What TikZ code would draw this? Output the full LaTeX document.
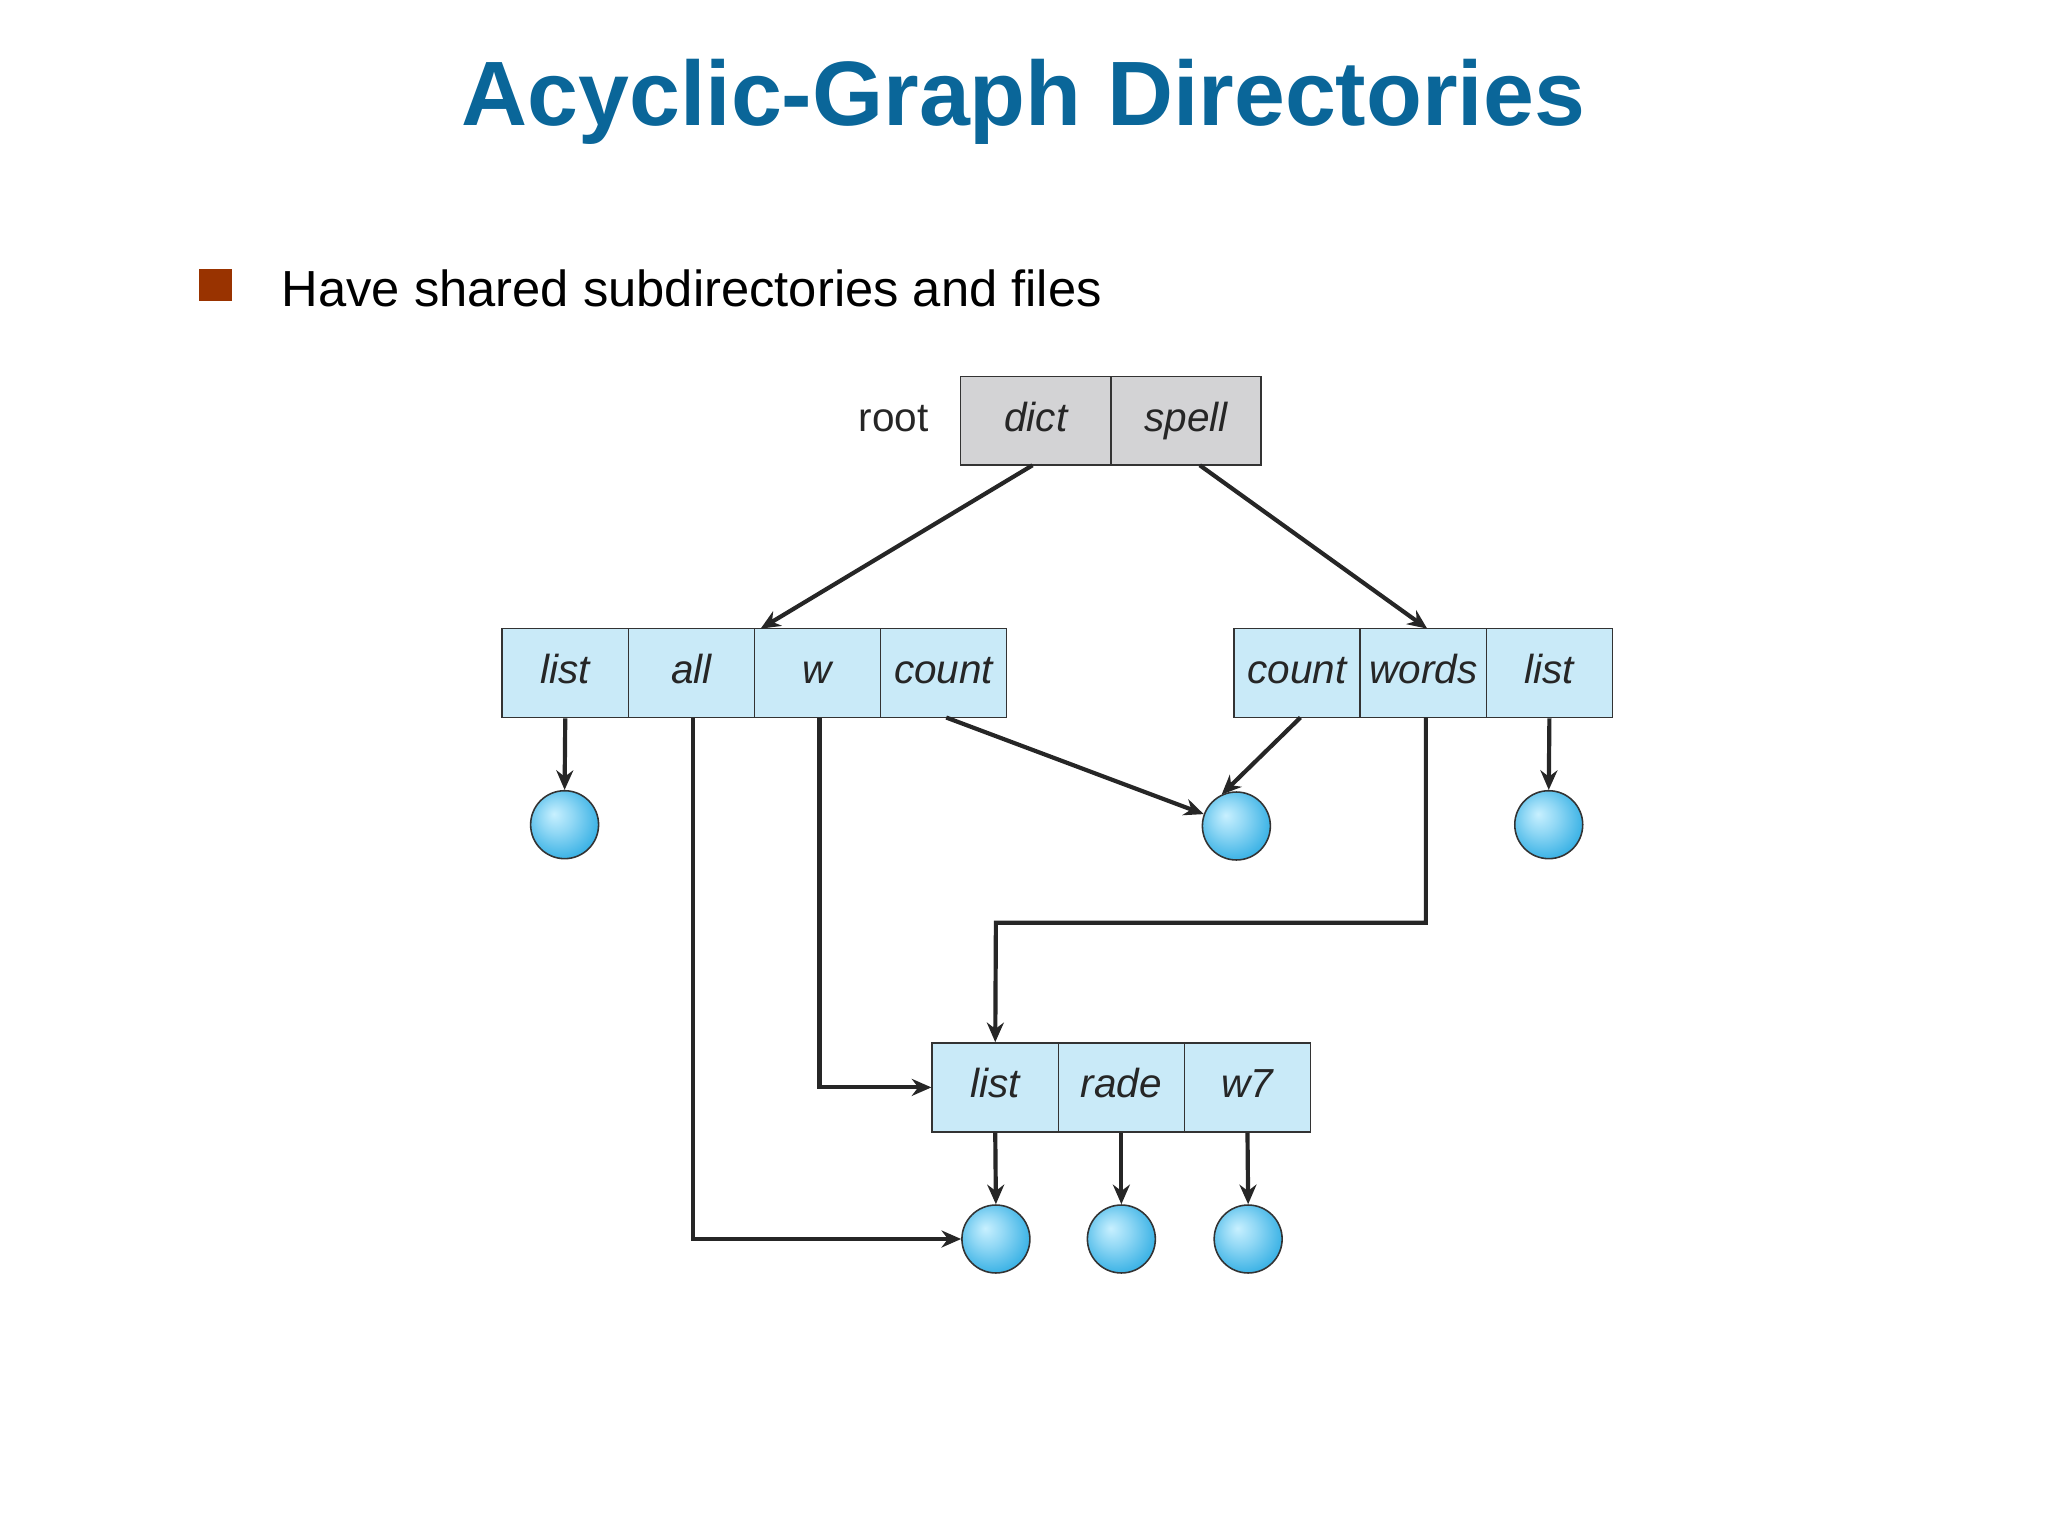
\documentclass[tikz,border=0pt]{standalone}
\usepackage{fontspec}
\setmainfont{Liberation Sans}
\usetikzlibrary{arrows.meta}
\definecolor{ttl}{HTML}{0A6699}
\definecolor{bul}{HTML}{993300}
\definecolor{cellb}{HTML}{C9EAF8}
\definecolor{cellg}{HTML}{D3D3D5}
\definecolor{ballin}{HTML}{C8F0FF}
\definecolor{ballout}{HTML}{3FB4E6}
\pgfdeclareradialshading{fball}{\pgfpoint{-8bp}{8bp}}{color(0bp)=(ballin); color(12bp)=(ballin!60!ballout); color(28bp)=(ballout); color(50bp)=(ballout)}
\begin{document}
\begin{tikzpicture}[x=1pt,y=-1pt,
  cell/.style={draw=black!80,line width=1.2pt,minimum width=96.5pt,minimum height=68pt,inner sep=0pt,font=\fontsize{31}{31}\selectfont\itshape,text=black!85,text height=22pt,text depth=6pt},
  bc/.style={cell,fill=cellb},
  gc/.style={cell,fill=cellg,minimum width=115pt},
  file/.style={circle,draw=black!80,line width=1.2pt,minimum size=52pt,inner sep=0pt,shading=fball},
  ar/.style={draw=black!85,line width=3.2pt,-{Stealth[length=15pt,width=13pt]}}]
\useasboundingbox (0,0) rectangle (1567,1175);
\node[font=\fontsize{70}{70}\selectfont\bfseries,text=ttl] (title) at (783,78) {Acyclic-Graph Directories};
\node[fill=bul,minimum size=25pt,inner sep=0pt] (bsq) at (165,218) {};
\node[anchor=west,font=\fontsize{38.8}{38.8}\selectfont] (btxt) at (212,221) {Have shared subdirectories and files};
% root
\node[gc] (dict) at (792.5,322) {dict};
\node[gc] (spell) at (907.5,322) {spell};
\node[anchor=east,font=\fontsize{31}{31}\selectfont,text=black!85,text height=22pt,text depth=6pt] (root) at (714,322) {root};
% left dir
\node[bc] (l1) at (432.5,515) {list};
\node[bc] (l2) at (529,515) {all};
\node[bc] (l3) at (625.5,515) {w};
\node[bc] (l4) at (722,515) {count};
% right dir
\node[bc] (r1) at (992.5,515) {count};
\node[bc] (r2) at (1089,515) {words};
\node[bc] (r3) at (1185.5,515) {list};
% bottom dir
\node[bc] (b1) at (761.5,832) {list};
\node[bc] (b2) at (858,832) {rade};
\node[bc] (b3) at (954.5,832) {w7};
% files
\node[file] (f1) at (432,631) {};
\node[file] (f2) at (946,632) {};
\node[file] (f3) at (1185,631) {};
\node[file] (f4) at (762,948) {};
\node[file] (f5) at (858,948) {};
\node[file] (f6) at (955,948) {};
% arrows
\coordinate (dl) at (582,481);
\coordinate (dr) at (1092,481);
\draw[ar] (790,356) -- (dl);
\draw[ar] (918,356) -- (dr);
\draw[ar] (l1.south) -- (f1.north);
\draw[ar] (724,549) -- (f2.160);
\draw[ar] (995,549) -- (f2.115);
\draw[ar] (r3.south) -- (f3.north);
\draw[ar] (1091,549) -- (1091,706) -- (762,706) -- (b1.north);
\draw[ar] (627,549) -- (627,832) -- (b1.west);
\draw[ar] (530,549) -- (530,948) -- (f4.west);
\draw[ar] (b1.south) -- (f4.north);
\draw[ar] (b2.south) -- (f5.north);
\draw[ar] (b3.south) -- (f6.north);
\end{tikzpicture}
\end{document}
